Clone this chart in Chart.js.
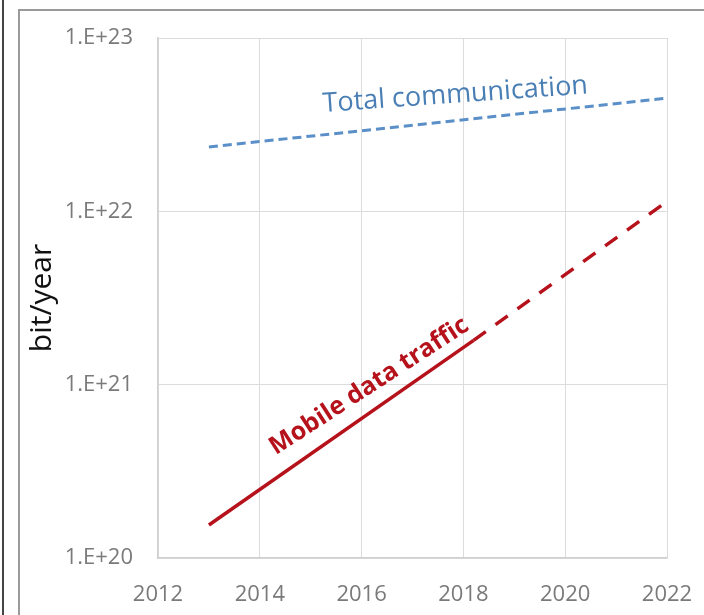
<!DOCTYPE html>
<html>
<head>
<meta charset="utf-8">
<script src="https://cdn.jsdelivr.net/npm/chart.js@4/dist/chart.umd.min.js"></script>
<style>
  html, body { margin: 0; padding: 0; background: #fff; }
  #wrap { position: relative; width: 704px; height: 615px; overflow: hidden; }
  #edge { position: absolute; left: 2px; top: 0; width: 2px; height: 615px; background: #444; }
  #frame { position: absolute; left: 18px; top: 9px; width: 700px; height: 620px;
           border-left: 2px solid #9a9a9a; border-top: 2px solid #9a9a9a; }
  canvas { position: absolute; left: 0; top: 0; }
</style>
</head>
<body>
<div id="wrap">
  <div id="edge"></div>
  <div id="frame"></div>
  <canvas id="chart" width="704" height="615"></canvas>
</div>
<script>
// Values
const totalYears = [2013, 2022];
const totalBits = [2.35e22, 4.5e22];

const mobileYears = [2013, 2018.2];
const mobileBits = [1.55e20, 1.8e21];

const mobileFutureYears = [2018.2, 2022];
const mobileFutureBits = [1.8e21, 1.14e22];

const xTickValues = [2012, 2014, 2016, 2018, 2020, 2022];
const yTickValues = [1e20, 1e21, 1e22, 1e23];
const yTickLabels = ['1.E+20', '1.E+21', '1.E+22', '1.E+23'];

const toPoints = (xs, ys) => xs.map((x, i) => ({ x: x, y: ys[i] }));

// In-plot text labels, anchored in data space
const seriesLabels = [
    { text: 'Total communication', x: 2017.84, y: 4.69e22, angle: -4,
      color: '#4a7fb5', font: "27px 'Open Sans', sans-serif" },
    { text: 'Mobile data traffic', x: 2016.15, y: 0.98e21, angle: -33,
      color: '#b5121b', font: "bold 25px 'Open Sans', sans-serif" }
];

const labelPlugin = {
    id: 'seriesLabels',
    afterDatasetsDraw(chart) {
        const ctx = chart.ctx;
        const xs = chart.scales.x, ys = chart.scales.y;
        seriesLabels.forEach(l => {
            ctx.save();
            ctx.translate(xs.getPixelForValue(l.x), ys.getPixelForValue(l.y));
            ctx.rotate(l.angle * Math.PI / 180);
            ctx.font = l.font;
            ctx.fillStyle = l.color;
            ctx.textAlign = 'center';
            ctx.textBaseline = 'middle';
            ctx.fillText(l.text, 0, 0);
            ctx.restore();
        });
    }
};

const tickFont = { family: "'Open Sans', sans-serif", size: 22 };

new Chart(document.getElementById('chart'), {
    type: 'line',
    data: {
        datasets: [
            {
                label: 'Total communication',
                data: toPoints(totalYears, totalBits),
                borderColor: '#5b8fc8',
                borderWidth: 3,
                borderDash: [9, 5],
                pointRadius: 0
            },
            {
                label: 'Mobile data traffic',
                data: toPoints(mobileYears, mobileBits),
                borderColor: '#b5121b',
                borderWidth: 3.5,
                pointRadius: 0
            },
            {
                label: 'Mobile data traffic (forecast)',
                data: toPoints(mobileFutureYears, mobileFutureBits),
                borderColor: '#b5121b',
                borderWidth: 3.5,
                borderDash: [15, 12],
                pointRadius: 0
            }
        ]
    },
    options: {
        responsive: false,
        animation: false,
        layout: { padding: { left: 0, right: 37, top: 38, bottom: 0 } },
        plugins: {
            legend: { display: false },
            tooltip: { enabled: false }
        },
        scales: {
            x: {
                type: 'linear',
                min: 2012,
                max: 2022,
                afterBuildTicks: scale => { scale.ticks = xTickValues.map(v => ({ value: v })); },
                afterFit: scale => {
                    scale.height = 57;
                    scale.paddingLeft = 0;
                    scale.paddingRight = 0;
                },
                grid: { color: '#dcdcdc', lineWidth: 1, drawTicks: false },
                border: { color: '#d0d0d0', width: 1.5 },
                ticks: {
                    color: '#7a7a7a',
                    font: tickFont,
                    padding: 24,
                    callback: v => String(v)
                }
            },
            y: {
                type: 'logarithmic',
                min: 1e20,
                max: 1e23,
                afterBuildTicks: scale => { scale.ticks = yTickValues.map(v => ({ value: v })); },
                afterFit: scale => {
                    scale.width = 158;
                    scale.paddingTop = 0;
                    scale.paddingBottom = 0;
                },
                grid: { color: '#dcdcdc', lineWidth: 1, drawTicks: false },
                border: { color: '#d0d0d0', width: 1.5 },
                ticks: {
                    color: '#7a7a7a',
                    font: tickFont,
                    padding: 25,
                    callback: v => yTickLabels[yTickValues.indexOf(v)]
                },
                title: {
                    display: true,
                    text: 'bit/year',
                    color: '#111111',
                    font: { family: "'Open Sans', sans-serif", size: 30 },
                    padding: { top: 24, bottom: 0 }
                }
            }
        }
    },
    plugins: [labelPlugin]
});
</script>
</body>
</html>
